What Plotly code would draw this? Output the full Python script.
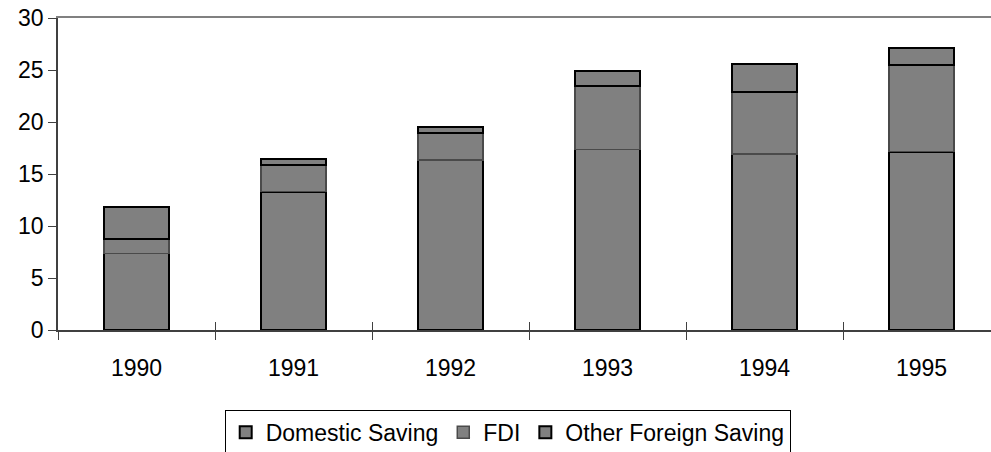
import plotly.graph_objects as go

years = ["1990", "1991", "1992", "1993", "1994", "1995"]
domestic = [7.37, 13.3, 16.35, 17.37, 16.9, 17.15]
fdi = [1.35, 2.53, 2.55, 6.13, 6.0, 8.3]
other = [3.08, 0.57, 0.59, 1.4, 2.7, 1.65]

FONT = "Liberation Sans, Arial, sans-serif"
AX = "#404040"

fig = go.Figure()
fig.add_trace(go.Bar(name="Domestic Saving", x=years, y=domestic,
                     marker=dict(color="#808080", line=dict(color="#000000", width=2))))
fig.add_trace(go.Bar(name="FDI", x=years, y=fdi,
                     marker=dict(color="#808080", line=dict(color="#4a4a4a", width=1.5))))
fig.add_trace(go.Bar(name="Other Foreign Saving", x=years, y=other,
                     marker=dict(color="#808080", line=dict(color="#000000", width=2))))

xr = [-0.5, 5.5 - 9 / 157]
bounds = [i - 0.5 for i in range(len(years) + 1)]

fig.update_layout(
    width=991, height=452,
    margin=dict(l=58, r=0, t=18, b=122, autoexpand=False),
    barmode="stack", bargap=0.586,
    plot_bgcolor="white", paper_bgcolor="white",
    font=dict(family=FONT, size=23, color="#000000"),
    showlegend=True,
    legend=dict(orientation="h", x=0.482, xanchor="center", y=-0.256, yanchor="top",
                bordercolor="#000000", borderwidth=1, font=dict(size=23, family=FONT),
                itemwidth=30, tracegroupgap=0, traceorder="normal"),
    xaxis=dict(type="category", range=xr, showline=True, linecolor=AX, linewidth=1.5,
               ticks="outside", tickson="boundaries", ticklen=8, tickcolor=AX,
               tickwidth=1, showgrid=False, tickfont=dict(size=23, family=FONT),
               ticklabelstandoff=17, automargin=False),
    xaxis2=dict(overlaying="x", anchor="y", range=xr, tickmode="array", tickvals=bounds,
                ticks="inside", ticklen=8, tickcolor=AX, showticklabels=False,
                showline=False, showgrid=False, zeroline=False, automargin=False),
    xaxis3=dict(overlaying="x", anchor="y", side="top", range=xr, showline=True,
                linecolor="#808080", linewidth=1.5, ticks="", showticklabels=False,
                showgrid=False, zeroline=False, automargin=False),
    yaxis=dict(range=[0, 30], dtick=5, showline=True, linecolor=AX, linewidth=1.5,
               ticks="outside", ticklen=8, tickcolor=AX, showgrid=False, zeroline=False,
               tickfont=dict(size=23, family=FONT), ticklabeloverflow="allow",
               automargin=False),
)
# invisible helper traces so the overlay axes get drawn
fig.add_trace(go.Scatter(x=[None], y=[None], xaxis="x2", showlegend=False, hoverinfo="skip"))
fig.add_trace(go.Scatter(x=[None], y=[None], xaxis="x3", showlegend=False, hoverinfo="skip"))

fig.write_html("out.html", config={"displayModeBar": False},
               post_script="document.body.style.margin='0';document.body.style.overflow='hidden';")
